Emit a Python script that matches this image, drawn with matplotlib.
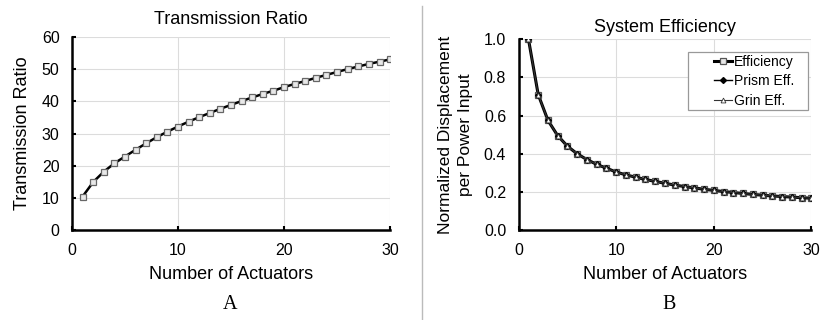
import matplotlib
matplotlib.use("Agg")
import matplotlib.pyplot as plt
from matplotlib.lines import Line2D
from matplotlib.patches import Rectangle

plt.rcParams['font.family'] = ['Liberation Sans', 'DejaVu Sans']

actuators = list(range(1, 31))
transmission = [10.5, 15.0, 18.2, 20.8, 22.9, 25.0, 27.0, 28.9, 30.6, 32.2,
                33.7, 35.1, 36.4, 37.7, 38.9, 40.1, 41.2, 42.3, 43.3, 44.4,
                45.4, 46.3, 47.3, 48.2, 49.1, 50.0, 50.8, 51.6, 52.3, 53.0]
efficiency = [1.0, 0.71, 0.575, 0.495, 0.44, 0.40, 0.37, 0.345, 0.325, 0.305,
              0.29, 0.278, 0.266, 0.256, 0.246, 0.237, 0.229, 0.222, 0.215, 0.209,
              0.203, 0.198, 0.193, 0.188, 0.184, 0.180, 0.177, 0.174, 0.171, 0.168]
prism_eff = efficiency
grin_eff = efficiency

fig = plt.figure(figsize=(8.22, 3.2), dpi=100)
ax1 = fig.add_axes([0.0876, 0.28, 0.387, 0.605])
ax2 = fig.add_axes([0.631, 0.28, 0.356, 0.598])


def style(ax):
    ax.grid(True, color='#dcdcdc', linewidth=0.8)
    ax.set_axisbelow(True)
    for s in ['top', 'right']:
        ax.spines[s].set_visible(False)
    for s in ['left', 'bottom']:
        ax.spines[s].set_linewidth(1.8)
    ax.tick_params(direction='in', length=3, width=1.5, labelsize=11.5, pad=9)
    ax.set_xlim(0, 30)
    ax.set_xticks([0, 10, 20, 30])


# left panel
ax1.plot(actuators, transmission, color='black', linewidth=1.8, marker='s',
         markersize=4.5, markerfacecolor='#e8e8e8', markeredgecolor='#666666',
         markeredgewidth=0.9)
style(ax1)
ax1.set_ylim(0, 60)
ax1.set_yticks(range(0, 61, 10))
ax1.set_title('Transmission Ratio', fontsize=13, pad=9)
ax1.set_xlabel('Number of Actuators', fontsize=13, labelpad=6)
ax1.set_ylabel('Transmission Ratio', fontsize=13, labelpad=8)

# right panel
ax2.plot(actuators, efficiency, color='black', linewidth=2.2, marker='s',
         markersize=4.5, markerfacecolor='#e8e8e8', markeredgecolor='#555555',
         markeredgewidth=0.9, label='Efficiency')
ax2.plot(actuators, prism_eff, color='black', linewidth=1.0, marker='D',
         markersize=3, markerfacecolor='black', label='Prism Eff.')
ax2.plot(actuators, grin_eff, color='#333333', linewidth=0.8, marker='^',
         markersize=3.5, markerfacecolor='white', markeredgewidth=0.6,
         label='Grin Eff.')
style(ax2)
ax2.set_ylim(0, 1.0)
ax2.set_yticks([0.0, 0.2, 0.4, 0.6, 0.8, 1.0])
ax2.set_yticklabels(['0.0', '0.2', '0.4', '0.6', '0.8', '1.0'])
ax2.set_title('System Efficiency', fontsize=13, pad=5)
ax2.set_xlabel('Number of Actuators', fontsize=13, labelpad=6)
ax2.set_ylabel('Normalized Displacement\nper Power Input', fontsize=12.5,
               labelpad=8, linespacing=1.4)

# legend frame drawn separately so it can be wider than its content
ax2.add_patch(Rectangle((0.579, 0.628), 0.411, 0.304, transform=ax2.transAxes,
                        facecolor='white', edgecolor='#999999', linewidth=0.9,
                        zorder=4))
leg = ax2.legend(loc='center', bbox_to_anchor=(0.805, 0.78), fontsize=10,
                 frameon=False, handlelength=1.3, handletextpad=0.15,
                 borderpad=0, labelspacing=0.4)
leg.set_zorder(5)

fig.text(0.28, 0.035, 'A', family=['Liberation Serif', 'DejaVu Serif'],
         fontsize=14.5, ha='center')
fig.text(0.814, 0.035, 'B', family=['Liberation Serif', 'DejaVu Serif'],
         fontsize=14.5, ha='center')
fig.add_artist(Line2D([0.513, 0.513], [0.0, 0.98], color='#bbbbbb',
                      linewidth=1.0, transform=fig.transFigure))

fig.savefig('out.png', dpi=100)
